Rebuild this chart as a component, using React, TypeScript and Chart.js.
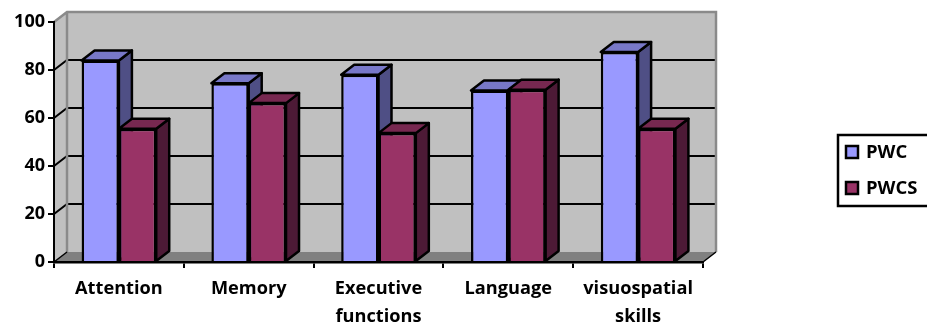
import React, { useEffect, useRef } from "react";
import { Chart, registerables } from "chart.js";

Chart.register(...registerables);

const categories = ["Attention", "Memory", ["Executive", "functions"], "Language", ["visuospatial", "skills"]];
const pwcValues = [84, 74.5, 78, 71.5, 87.5];
const pwcsValues = [55.5, 66.2, 53.7, 71.8, 55.5];

const FONT = "'Open Sans', 'Noto Sans', sans-serif";
const DEPTH_X = 13;
const DEPTH_Y = 10;

const seriesColors = [
  { front: "#9999FF", side: "#4F4F85", top: "#7878C8" },
  { front: "#993366", side: "#4D1A36", top: "#772850" },
];

function poly(ctx: CanvasRenderingContext2D, pts: number[][], fill: string, stroke?: string, width = 2.5) {
  ctx.beginPath();
  pts.forEach((p, i) => (i ? ctx.lineTo(p[0], p[1]) : ctx.moveTo(p[0], p[1])));
  ctx.closePath();
  ctx.fillStyle = fill;
  ctx.fill();
  if (stroke) {
    ctx.strokeStyle = stroke;
    ctx.lineWidth = width;
    ctx.lineJoin = "round";
    ctx.stroke();
  }
}

// Back wall, side wall and floor of the 3D box, behind the axes.
const wallsPlugin = {
  id: "walls",
  beforeDraw(chart: any) {
    const { ctx, chartArea: a, scales } = chart;
    const { left: l, right: r, top: t, bottom: b } = a;
    ctx.save();
    poly(ctx, [[l, t], [l + DEPTH_X, t - DEPTH_Y], [l + DEPTH_X, b - DEPTH_Y], [l, b]], "#C0C0C0");
    poly(ctx, [[l + DEPTH_X, t - DEPTH_Y], [r + DEPTH_X, t - DEPTH_Y], [r + DEPTH_X, b - DEPTH_Y], [l + DEPTH_X, b - DEPTH_Y]], "#C0C0C0");

    ctx.strokeStyle = "#000";
    ctx.lineWidth = 2;
    for (const tick of scales.y.ticks) {
      if (tick.value === 0 || tick.value === 100) continue;
      const y = scales.y.getPixelForValue(tick.value);
      ctx.beginPath();
      ctx.moveTo(l, y);
      ctx.lineTo(l + DEPTH_X, y - DEPTH_Y);
      ctx.lineTo(r + DEPTH_X - 1, y - DEPTH_Y);
      ctx.stroke();
    }

    poly(ctx, [[l, b], [l + DEPTH_X, b - DEPTH_Y], [r + DEPTH_X, b - DEPTH_Y], [r, b]], "#808080");

    ctx.strokeStyle = "#8A8A8A";
    ctx.lineWidth = 2.5;
    ctx.beginPath();
    ctx.moveTo(l, t);
    ctx.lineTo(l + DEPTH_X, t - DEPTH_Y);
    ctx.lineTo(r + DEPTH_X, t - DEPTH_Y);
    ctx.lineTo(r + DEPTH_X, b - DEPTH_Y);
    ctx.moveTo(l + DEPTH_X, t - DEPTH_Y);
    ctx.lineTo(l + DEPTH_X, b - DEPTH_Y);
    ctx.stroke();

    ctx.strokeStyle = "#000";
    ctx.lineWidth = 1.5;
    ctx.beginPath();
    ctx.moveTo(l, b);
    ctx.lineTo(l + DEPTH_X, b - DEPTH_Y);
    ctx.moveTo(r, b);
    ctx.lineTo(r + DEPTH_X, b - DEPTH_Y);
    ctx.stroke();
    ctx.restore();
  },
};

// Side and top faces of each bar, placed from the bar elements themselves.
const barDepthPlugin = {
  id: "barDepth",
  beforeDatasetsDraw(chart: any) {
    const { ctx } = chart;
    ctx.save();
    chart.data.labels.forEach((_: unknown, index: number) => {
      chart.data.datasets.forEach((_d: unknown, ds: number) => {
        const bar = chart.getDatasetMeta(ds).data[index];
        const { x, y, base, width } = bar.getProps(["x", "y", "base", "width"], true);
        const x0 = x - width / 2;
        const x1 = x + width / 2;
        const c = seriesColors[ds];
        poly(ctx, [[x1, y], [x1 + DEPTH_X, y - DEPTH_Y], [x1 + DEPTH_X, base - DEPTH_Y], [x1, base]], c.side, "#000");
        poly(ctx, [[x0, y], [x0 + DEPTH_X, y - DEPTH_Y], [x1 + DEPTH_X, y - DEPTH_Y], [x1, y]], c.top, "#000");
      });
    });
    ctx.restore();
  },
};

// Framed key in the right margin, listing the datasets.
const keyPlugin = {
  id: "key",
  afterDraw(chart: any) {
    const { ctx } = chart;
    ctx.save();
    ctx.strokeStyle = "#000";
    ctx.lineWidth = 2.5;
    ctx.strokeRect(838, 135, 95, 71);
    ctx.font = `bold 18.5px ${FONT}`;
    ctx.textBaseline = "middle";
    ctx.textAlign = "left";
    chart.data.datasets.forEach((d: any, i: number) => {
      const cy = 152 + i * 36;
      ctx.fillStyle = d.backgroundColor;
      ctx.fillRect(846, cy - 6, 12, 12);
      ctx.strokeRect(846, cy - 6, 12, 12);
      ctx.fillStyle = "#000";
      ctx.fillText(d.label, 866, cy + 0.5);
    });
    ctx.restore();
  },
};

export default function App() {
  const ref = useRef<HTMLCanvasElement>(null);
  useEffect(() => {
    document.body.style.margin = "0";
    const chart = new Chart(ref.current!, {
      type: "bar",
      data: {
        labels: categories as any,
        datasets: [
          { label: "PWC", data: pwcValues, backgroundColor: seriesColors[0].front, borderColor: "#000", borderWidth: 2.5 },
          { label: "PWCS", data: pwcsValues, backgroundColor: seriesColors[1].front, borderColor: "#000", borderWidth: 2.5 },
        ],
      },
      options: {
        animation: false,
        responsive: false,
        layout: { padding: { top: 22, right: 224, left: 0, bottom: 0 } },
        datasets: { bar: { categoryPercentage: 0.575, barPercentage: 1 } },
        plugins: { legend: { display: false }, tooltip: { enabled: false }, title: { display: false } },
        scales: {
          x: {
            afterFit: (s: any) => { s.height = 65; },
            grid: { offset: true, drawOnChartArea: false, color: "#000", lineWidth: 2, tickLength: 6 },
            border: { color: "#000", width: 2.5 },
            ticks: { color: "#000", padding: 7, maxRotation: 0, autoSkip: false, font: { family: FONT, size: 18.2, weight: "bold", lineHeight: 1.54 } },
          },
          y: {
            min: 0,
            max: 100,
            afterFit: (s: any) => { s.width = 54; },
            grid: { drawOnChartArea: false, color: "#000", lineWidth: 2, tickLength: 6 },
            border: { color: "#000", width: 2 },
            ticks: { stepSize: 20, color: "#000", padding: 3, font: { family: FONT, size: 18, weight: "bold" } },
          },
        },
      } as any,
      plugins: [wallsPlugin, barDepthPlugin, keyPlugin],
    });
    return () => chart.destroy();
  }, []);
  return <canvas ref={ref} width={927} height={327} style={{ display: "block" }} />;
}
